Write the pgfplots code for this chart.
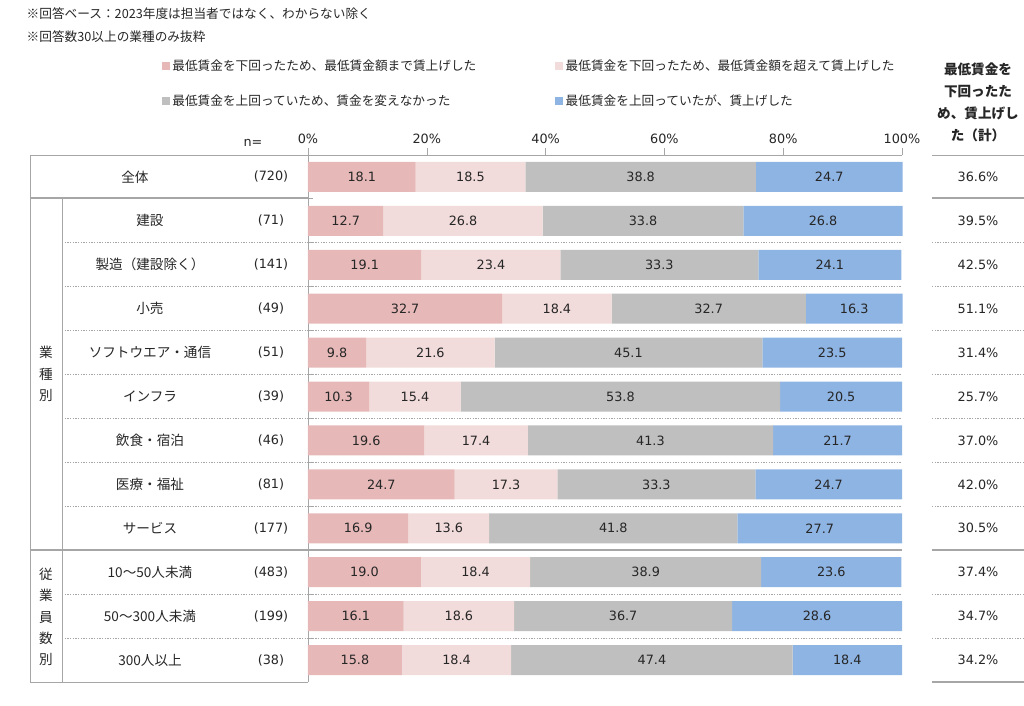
\documentclass[border=0pt]{standalone}
\usepackage{pgfplots}
\pgfplotsset{compat=1.18}
\usepackage{pgfplotstable}
\usepackage{fontspec}
\setmainfont{Noto Sans CJK JP}
\newfontfamily\numfont{DejaVu Sans}
\definecolor{cA}{HTML}{E6B9B8}
\definecolor{cB}{HTML}{F2DCDB}
\definecolor{cC}{HTML}{BFBFBF}
\definecolor{cD}{HTML}{8EB4E3}
\definecolor{txt}{HTML}{262626}
\definecolor{lin}{HTML}{A6A6A6}
\newcommand{\fa}{\fontsize{10.2}{12}\selectfont}
\newcommand{\fb}{\fontsize{9.5}{11}\selectfont}
\newcommand{\fn}{\numfont\fontsize{9.6}{12}\selectfont}

\pgfplotstableread{
row a b c d tot
0 18.1 18.5 38.8 24.7 36.6
1 12.7 26.8 33.8 26.8 39.5
2 19.1 23.4 33.3 24.1 42.5
3 32.7 18.4 32.7 16.3 51.1
4 9.8 21.6 45.1 23.5 31.4
5 10.3 15.4 53.8 20.5 25.7
6 19.6 17.4 41.3 21.7 37.0
7 24.7 17.3 33.3 24.7 42.0
8 16.9 13.6 41.8 27.7 30.5
9 19.0 18.4 38.9 23.6 37.4
10 16.1 18.6 36.7 28.6 34.7
11 15.8 18.4 47.4 18.4 34.2
}\datatable

\pgfplotsset{base/.style={scale only axis, width=445.5pt, height=395.25pt,
  xmin=0, xmax=100, ymin=-0.5, ymax=11.5, y dir=reverse, clip=false,
  /pgf/number format/assume math mode=true}}

\begin{document}
\begin{tikzpicture}
\begin{axis}[base, name=main, xbar stacked, bar width=22.5pt,
  axis x line*=top, axis y line*=left,
  axis line style={draw=lin},
  xtick={0,20,...,100},
  xticklabel={\pgfmathprintnumber{\tick}\%},
  xticklabel style={font=\fn, text=txt},
  ytick=\empty,
  tick style={draw=lin}, major tick length=5pt, tick align=outside,
  legend style={at={(-0.2534,1.192)}, anchor=north west, draw=none, fill=none,
    font=\fb, text=txt, legend columns=2,
    /tikz/every even column/.append style={column sep=57pt}, row sep=13pt},
  legend cell align=left,
]
\addplot[fill=cA, draw=none, legend image code/.code={\fill[cA] (0pt,-3pt) rectangle (6pt,3pt);}] table[x=a, y=row]{\datatable};
\addlegendentry{最低賃金を下回ったため、最低賃金額まで賃上げした}
\addplot[fill=cB, draw=none, legend image code/.code={\fill[cB] (0pt,-3pt) rectangle (6pt,3pt);}] table[x=b, y=row]{\datatable};
\addlegendentry{最低賃金を下回ったため、最低賃金額を超えて賃上げした}
\addplot[fill=cC, draw=none, legend image code/.code={\fill[cC] (0pt,-3pt) rectangle (6pt,3pt);}] table[x=c, y=row]{\datatable};
\addlegendentry{最低賃金を上回っていため、賃金を変えなかった}
\addplot[fill=cD, draw=none, legend image code/.code={\fill[cD] (0pt,-3pt) rectangle (6pt,3pt);}] table[x=d, y=row]{\datatable};
\addlegendentry{最低賃金を上回っていたが、賃上げした}
\end{axis}

\begin{axis}[base, at={(main.south west)}, anchor=south west, hide axis,
  point meta=explicit,
  nodes near coords={\pgfmathprintnumber[fixed, fixed zerofill, precision=1]{\pgfplotspointmeta}},
  every node near coord/.append style={anchor=center, font=\fn, text=txt},
]
\addplot[only marks, mark=none] table[x expr=\thisrow{a}/2, y=row, meta=a]{\datatable};
\addplot[only marks, mark=none] table[x expr=\thisrow{a}+\thisrow{b}/2, y=row, meta=b]{\datatable};
\addplot[only marks, mark=none] table[x expr=\thisrow{a}+\thisrow{b}+\thisrow{c}/2, y=row, meta=c]{\datatable};
\addplot[only marks, mark=none] table[x expr=\thisrow{a}+\thisrow{b}+\thisrow{c}+\thisrow{d}/2, y=row, meta=d]{\datatable};
\addplot[only marks, mark=none,
  nodes near coords={\pgfmathprintnumber[fixed, fixed zerofill, precision=1]{\pgfplotspointmeta}\%}]
  table[x expr=112.8, y=row, meta=tot]{\datatable};
\end{axis}

\begin{scope}[shift={(main.south west)}]
\begin{scope}[shift={(-231pt,511.5pt)}, x=0.75pt, y=-0.75pt]
  \begin{scope}[every node/.style={font=\fa, text=txt}]
  \foreach \lab [count=\i from 0] in {建設,製造（建設除く）,小売,ソフトウエア・通信,インフラ,飲食・宿泊,医療・福祉,サービス,10～50人未満,50～300人未満,300人以上} {
    \node at (150, {155+43.917*(\i+1.5)}) {\lab};
  }
  \node at (135,177) {全体};
  \foreach \lab [count=\i from 0] in {(720),(71),(141),(49),(51),(39),(46),(81),(177),(483),(199),(38)} {
    \node[font=\fn] at (271, {155+43.917*(\i+0.5)}) {\lab};
  }
  \node[align=center, font=\fontsize{10.2}{16}\selectfont] at (46,374) {業\\種\\別};
  \node[align=center, font=\fontsize{10.2}{16}\selectfont] at (46,617) {従\\業\\員\\数\\別};
  \end{scope}
  % small ticks on the left axis at row boundaries
  \foreach \yy in {198,242,286,330,374,418,462,506,550,594,638} {
    \draw[lin, line width=0.5pt] (308,\yy) -- (313,\yy);
  }
  % table lines
  \draw[lin, line width=0.6pt] (30,155) -- (308,155);
  \draw[lin, line width=0.6pt] (30,155) -- (30,682) -- (308,682);
  \draw[lin, line width=0.6pt] (62,198) -- (62,682);
  \draw[lin, line width=1.3pt] (30,198) -- (308,198);
  \draw[lin, line width=1.3pt] (30,550) -- (902,550);
  \foreach \yy in {242,286,330,374,418,462,506,594,638} {
    \draw[lin, line width=0.5pt, dash pattern=on 1pt off 1pt] (62,\yy) -- (902,\yy);
    \draw[lin, line width=0.5pt, dash pattern=on 1pt off 1pt] (932,\yy) -- (1024,\yy);
  }
  \draw[lin, line width=0.6pt] (932,155) -- (1024,155);
  \draw[lin, line width=1.3pt] (932,198) -- (1024,198);
  \draw[lin, line width=1.3pt] (932,550) -- (1024,550);
  \draw[lin, line width=0.8pt] (932,682) -- (1024,682);
  % texts
  \node[anchor=west, font=\fb, text=txt] at (22,14) {※回答ベース：2023年度は担当者ではなく、わからない除く};
  \node[anchor=west, font=\fb, text=txt] at (22,37) {※回答数30以上の業種のみ抜粋};
  \node[font=\fn, text=txt] at (253,143) {n=};
  \node[font=\fontsize{10.2}{16.5}\selectfont\bfseries, text=txt, align=center] at (978,102)
    {最低賃金を\\下回ったた\\め、賃上げし\\た（計）};
  \pgfresetboundingbox
  \path[use as bounding box] (0,0) rectangle (1024,706);
\end{scope}
\end{scope}
\end{tikzpicture}
\end{document}
